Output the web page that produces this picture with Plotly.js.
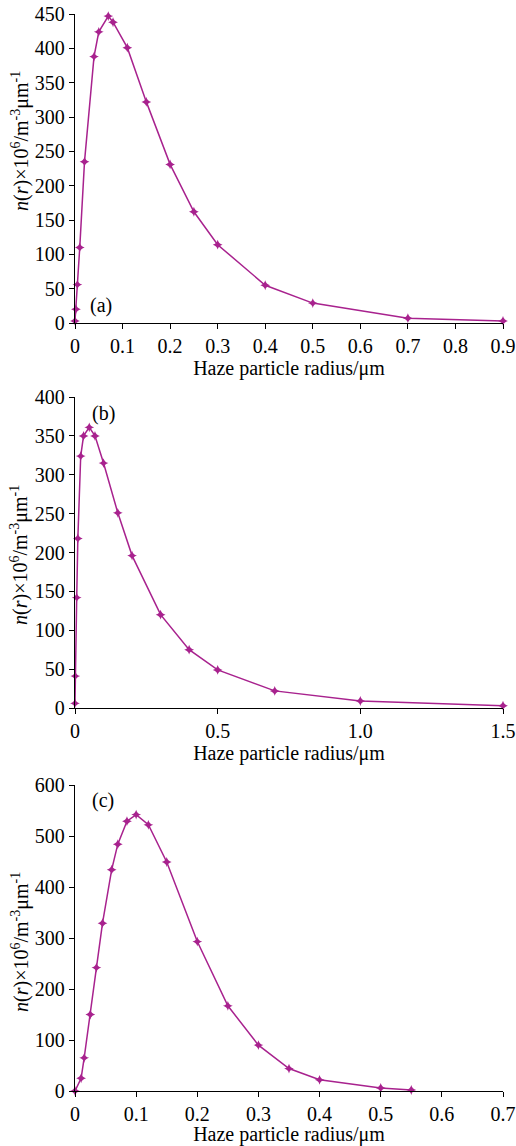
<!DOCTYPE html>
<html>
<head>
<meta charset="utf-8">
<script src="https://cdn.plot.ly/plotly-3.0.1.min.js"></script>
<style>html,body{margin:0;padding:0;background:#fff;}#chart{width:516px;height:1146px;}</style>
</head>
<body>
<div id="chart"></div>
<script>
// Panel (a)
const radiusA = [0, 0.002, 0.005, 0.01, 0.02, 0.04, 0.05, 0.07, 0.08, 0.11, 0.15, 0.2, 0.25, 0.3, 0.4, 0.5, 0.7, 0.9];
const densityA = [3, 20, 56, 110, 235, 388, 424, 447, 438, 401, 322, 231, 162, 114, 55, 29, 7, 3];
// Panel (b)
const radiusB = [0, 0.001, 0.006, 0.01, 0.02, 0.03, 0.05, 0.07, 0.1, 0.15, 0.2, 0.3, 0.4, 0.5, 0.7, 1.0, 1.5];
const densityB = [6, 41, 142, 218, 324, 350, 361, 350, 315, 251, 196, 120, 75, 49, 22, 9, 3];
// Panel (c)
const radiusC = [0, 0.01, 0.015, 0.025, 0.035, 0.045, 0.06, 0.07, 0.085, 0.1, 0.12, 0.15, 0.2, 0.25, 0.3, 0.35, 0.4, 0.5, 0.55];
const densityC = [0, 25, 65, 150, 242, 329, 434, 484, 529, 542, 522, 449, 293, 167, 90, 44, 22, 6, 2];

const ticksA = [0, 0.1, 0.2, 0.3, 0.4, 0.5, 0.6, 0.7, 0.8, 0.9];
const tickTextA = ['0', '0.1', '0.2', '0.3', '0.4', '0.5', '0.6', '0.7', '0.8', '0.9'];
const ticksB = [0, 0.5, 1.0, 1.5];
const tickTextB = ['0', '0.5', '1.0', '1.5'];
const ticksC = [0, 0.1, 0.2, 0.3, 0.4, 0.5, 0.6, 0.7];
const tickTextC = ['0', '0.1', '0.2', '0.3', '0.4', '0.5', '0.6', '0.7'];
const panelLabels = ['(a)', '(b)', '(c)'];
const xTitle = 'Haze particle radius/μm';
const yTitle = '<i>n</i>(<i>r</i>)×10<sup>6</sup>/m<sup>-3</sup>μm<sup>-1</sup>';

const W = 516, H = 1146;
const color = '#A8228E';
const fontFam = 'Liberation Serif, Times New Roman, serif';
const FS = 20;

function trace(x, y, xa, ya) {
  return {x: x, y: y, xaxis: xa, yaxis: ya, type: 'scatter', mode: 'lines+markers',
    line: {color: color, width: 1.5},
    marker: {color: color, symbol: 'star-diamond', size: 7},
    showlegend: false, cliponaxis: false};
}
function dom(top, bottom) { return [1 - bottom / H, 1 - top / H]; }

const axBase = {showline: true, linecolor: '#000', linewidth: 1.2, ticks: 'outside', ticklen: 5,
  tickcolor: '#000', showgrid: false, zeroline: false, mirror: false,
  tickfont: {family: fontFam, size: FS, color: '#000'}};

function xax(range, tv, tt, anchor, standoff) {
  return Object.assign({}, axBase, {range: range, tickmode: 'array', tickvals: tv, ticktext: tt,
    anchor: anchor, domain: [75/W, 503/W],
    title: {text: xTitle, font: {family: fontFam, size: FS, color: '#000'}, standoff: standoff}});
}
function yax(range, dtick, domY, anchor) {
  return Object.assign({}, axBase, {range: range, dtick: dtick, tick0: 0, domain: domY, anchor: anchor});
}
function panelLabel(txt, px, py) {
  return {text: txt, xref: 'paper', yref: 'paper', x: px / W, y: 1 - py / H, xanchor: 'left', yanchor: 'middle',
    showarrow: false, font: {family: fontFam, size: FS, color: '#000'}};
}
function yTitleAnn(py) {
  return {text: yTitle, xref: 'paper', yref: 'paper', x: 20 / W, y: 1 - py / H, xanchor: 'center', yanchor: 'middle',
    textangle: -90, showarrow: false, font: {family: fontFam, size: FS, color: '#000'}};
}

const data = [
  trace(radiusA, densityA, 'x', 'y'),
  trace(radiusB, densityB, 'x2', 'y2'),
  trace(radiusC, densityC, 'x3', 'y3')
];

const layout = {
  width: W, height: H,
  margin: {l: 0, r: 0, t: 0, b: 0},
  paper_bgcolor: '#fff', plot_bgcolor: '#fff',
  font: {family: fontFam, color: '#000'},
  xaxis: xax([0, 0.9], ticksA, tickTextA, 'y', 2),
  yaxis: yax([0, 450], 50, dom(14, 323), 'x'),
  xaxis2: xax([0, 1.5], ticksB, tickTextB, 'y2', 2),
  yaxis2: yax([0, 400], 50, dom(397, 708), 'x2'),
  xaxis3: xax([0, 0.7], ticksC, tickTextC, 'y3', 4),
  yaxis3: yax([0, 600], 100, dom(785, 1091), 'x3'),
  annotations: [
    panelLabel(panelLabels[0], 88, 305),
    panelLabel(panelLabels[1], 90, 413),
    panelLabel(panelLabels[2], 90, 800),
    yTitleAnn(141),
    yTitleAnn(555),
    yTitleAnn(942)
  ]
};

Plotly.newPlot('chart', data, layout, {displayModeBar: false, staticPlot: true});
</script>
</body>
</html>
